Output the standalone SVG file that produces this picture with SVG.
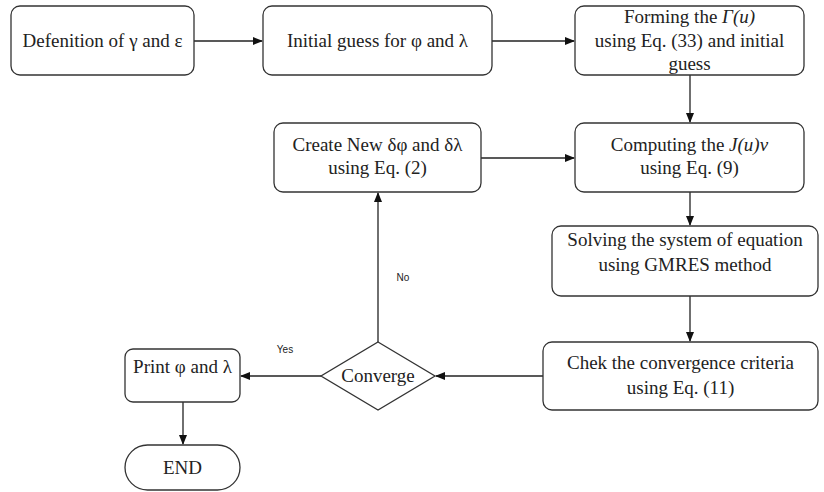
<svg xmlns="http://www.w3.org/2000/svg" width="824" height="492" viewBox="0 0 824 492">
<defs>
<style>
.n{fill:#fff;stroke:#333;stroke-width:1.3}
.t{font-family:"Liberation Serif",serif;font-size:19px;fill:#222;text-anchor:middle}
.s{font-family:"Liberation Sans",sans-serif;font-size:10px;fill:#222;text-anchor:middle}
.c{stroke:#222;stroke-width:1.3;fill:none;marker-end:url(#a)}
</style>
<marker id="a" markerWidth="10" markerHeight="8" refX="9" refY="4" orient="auto" markerUnits="userSpaceOnUse">
<path d="M0,0 L10,4 L0,8 z" fill="#111"/>
</marker>
</defs>
<rect width="824" height="492" fill="#fff"/>
<g id="connectors">
<path class="c" d="M194,41 H262"/>
<path class="c" d="M492,41 H574"/>
<path class="c" d="M690,75 V122"/>
<path class="c" d="M481,158 H574"/>
<path class="c" d="M690,192 V225"/>
<path class="c" d="M690,296 V341"/>
<path class="c" d="M543,376 H436"/>
<path class="c" d="M321,376 H241"/>
<path class="c" d="M378,342 V193"/>
<path class="c" d="M183,402 V444"/>
<text class="s" x="285" y="353">Yes</text>
<text class="s" x="403" y="281">No</text>
</g>
<g id="n1"><rect class="n" x="11" y="6" width="183" height="69" rx="9"/><text class="t" x="102.5" y="47">Defenition of γ and ε</text></g>
<g id="n2"><rect class="n" x="263" y="6" width="229" height="69" rx="9"/><text class="t" x="377.5" y="47">Initial guess for φ and λ</text></g>
<g id="n3"><rect class="n" x="575" y="6" width="229" height="69" rx="9"/><text class="t" x="689.5" y="23">Forming the <tspan font-style="italic">Γ(u)</tspan></text><text class="t" x="689.5" y="47">using Eq. (33) and initial</text><text class="t" x="689.5" y="70">guess</text></g>
<g id="n4"><rect class="n" x="575" y="123" width="229" height="69" rx="9"/><text class="t" x="689.5" y="151">Computing the <tspan font-style="italic">J(u)v</tspan></text><text class="t" x="689.5" y="174">using Eq. (9)</text></g>
<g id="n5"><rect class="n" x="274" y="123" width="207" height="69" rx="9"/><text class="t" x="377.5" y="151">Create New δφ and δλ</text><text class="t" x="377.5" y="174">using Eq. (2)</text></g>
<g id="n6"><rect class="n" x="552" y="226" width="266" height="70" rx="9"/><text class="t" x="685" y="246">Solving the system of equation</text><text class="t" x="685" y="271">using GMRES method</text></g>
<g id="n7"><rect class="n" x="543" y="342" width="275" height="68" rx="9"/><text class="t" x="680.5" y="369">Chek the convergence criteria</text><text class="t" x="680.5" y="394">using Eq. (11)</text></g>
<g id="n8"><polygon class="n" points="378,342 435,376 378,410 321,376"/><text class="t" x="378" y="382">Converge</text></g>
<g id="n9"><rect class="n" x="125" y="349" width="115" height="53" rx="8"/><text class="t" x="182.5" y="373">Print φ and λ</text></g>
<g id="n10"><rect class="n" x="125" y="445" width="115" height="45" rx="22.5"/><text class="t" x="182.5" y="474">END</text></g>
</svg>
